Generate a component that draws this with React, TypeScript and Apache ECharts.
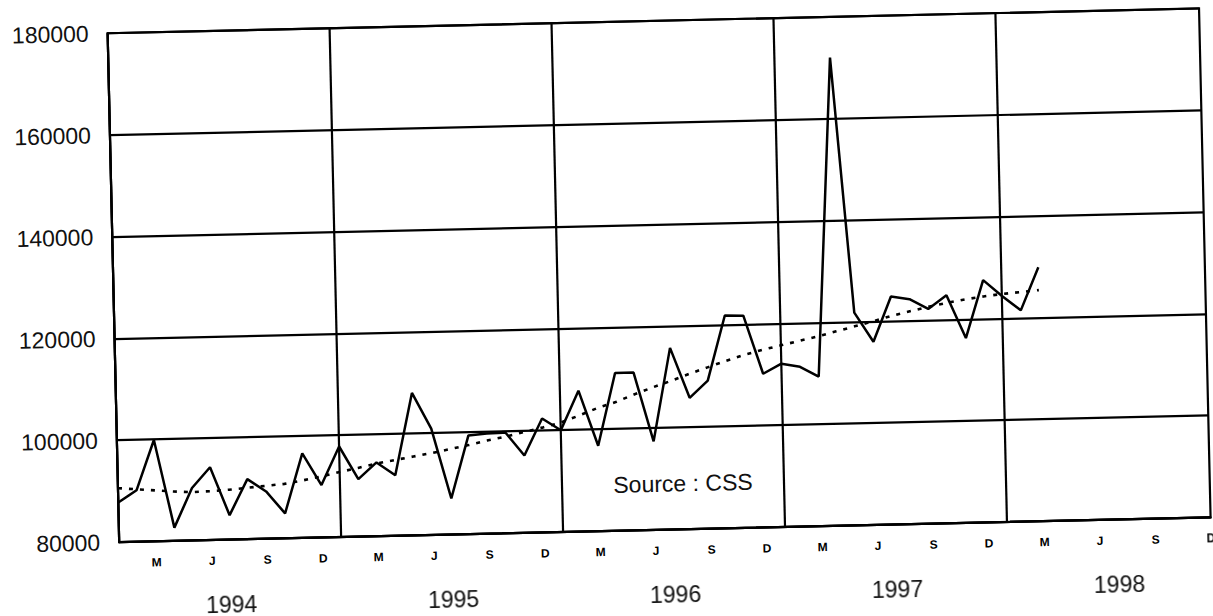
import React, { useEffect, useRef } from "react";
import * as echarts from "echarts";

// ---- data ----
const years = [1994, 1995, 1996, 1997, 1998];
const monthNumbers = [1, 2, 3, 4, 5, 6, 7, 8, 9, 10, 11, 12];
const quarterLetters = ["M", "J", "S", "D"]; // March, June, September, December
const yearLabels = ["1994", "1995", "1996", "1997", "1998"];

// monthly values, Jan 1994 .. Mar 1998
const sales = [
  87800, 90100, 99900, 82600, 90300, 94300, 84800, 91800, 89300, 84900, 96600, 90300,
  97800, 91300, 94500, 91900, 108000, 100900, 87100, 99400, 99700, 99800, 95200, 102400,
  100000, 107700, 96800, 111000, 111000, 97400, 115700, 105800, 109100, 121800, 121700, 110200,
  112100, 111400, 109400, 172000, 121800, 116000, 124800, 124200, 122200, 124800, 116300, 127600,
  124400, 121500, 129900,
];

// dotted trend line, Jan 1994 .. Mar 1998
const trend = [
  90600, 90300, 90000, 89700, 89500, 89600, 89800, 90100, 90400, 90700, 91300, 92000,
  92800, 93500, 94300, 94900, 95500, 96100, 96800, 97500, 98300, 99000, 99800, 100600,
  101500, 102800, 104200, 105300, 106700, 108000, 109200, 110500, 111700, 112900, 114000, 114900,
  115700, 116500, 117300, 118200, 119100, 120000, 121000, 121800, 122600, 123300, 123900, 124400,
  124800, 125100, 125400,
];

const sourceText = "Source : CSS";

const categories = years.flatMap((y) =>
  monthNumbers.map((m) => `${y}-${m < 10 ? "0" + m : m}`)
);

const FONT = "'Liberation Sans', Arial, sans-serif";

export default function App() {
  const ref = useRef<HTMLDivElement>(null);

  useEffect(() => {
    if (!ref.current) return;
    const chart = echarts.init(ref.current, undefined, { renderer: "svg" });
    chart.setOption({
      animation: false,
      backgroundColor: "#ffffff",
      grid: {
        left: 114,
        right: 3,
        top: 22,
        bottom: 85,
        show: true,
        borderColor: "#000",
        borderWidth: 2.2,
      },
      xAxis: [
        {
          type: "category",
          data: categories,
          boundaryGap: false,
          axisLine: { show: true, lineStyle: { color: "#000", width: 2.2 } },
          axisTick: { show: false },
          axisLabel: {
            interval: (i: number) => i % 3 === 2,
            formatter: (v: string) => {
              const m = parseInt(v.slice(5), 10);
              return quarterLetters[m / 3 - 1] || "";
            },
            fontSize: 12,
            fontWeight: "bold",
            fontFamily: FONT,
            color: "#000",
            margin: 15,
          },
          splitLine: {
            show: true,
            interval: (i: number) => i % 12 === 0,
            lineStyle: { color: "#000", width: 2.2 },
          },
        },
        {
          type: "category",
          data: categories,
          boundaryGap: false,
          position: "bottom",
          axisLine: { show: false },
          axisTick: { show: false },
          splitLine: { show: false },
          axisLabel: {
            interval: (i: number) => i % 12 === 6,
            formatter: (v: string) => {
              const idx = years.indexOf(parseInt(v.slice(0, 4), 10));
              return yearLabels[idx];
            },
            fontSize: 23,
            fontFamily: FONT,
            color: "#111",
            margin: 53,
          },
        },
      ],
      yAxis: {
        type: "value",
        min: 80000,
        max: 180000,
        interval: 20000,
        axisLine: { show: true, lineStyle: { color: "#000", width: 2.2 } },
        axisTick: { show: false },
        axisLabel: {
          formatter: (v: number) => String(v),
          fontSize: 23,
          fontFamily: FONT,
          color: "#111",
          margin: 19,
        },
        splitLine: { show: true, lineStyle: { color: "#000", width: 2.2 } },
      },
      graphic: [
        {
          type: "text",
          x: 679,
          y: 485,
          style: {
            text: sourceText,
            align: "center",
            verticalAlign: "middle",
            fontSize: 23,
            fontFamily: FONT,
            fill: "#111",
          },
        },
      ],
      series: [
        {
          type: "line",
          name: "trend",
          data: trend,
          symbol: "none",
          xAxisIndex: 0,
          lineStyle: { color: "#000", width: 2.6, type: [4, 7] },
        },
        {
          type: "line",
          name: "value",
          data: sales,
          symbol: "none",
          xAxisIndex: 0,
          lineStyle: { color: "#000", width: 2.5 },
        },
      ],
    });
    return () => chart.dispose();
  }, []);

  return (
    <div
      style={{
        position: "fixed",
        left: 0,
        top: 0,
        width: 1213,
        height: 616,
        background: "#fff",
      }}
    >
      <div
        ref={ref}
        style={{
          width: 1213,
          height: 616,
          transform: "rotate(-1.3deg)",
          transformOrigin: "50% 50%",
        }}
      />
    </div>
  );
}
